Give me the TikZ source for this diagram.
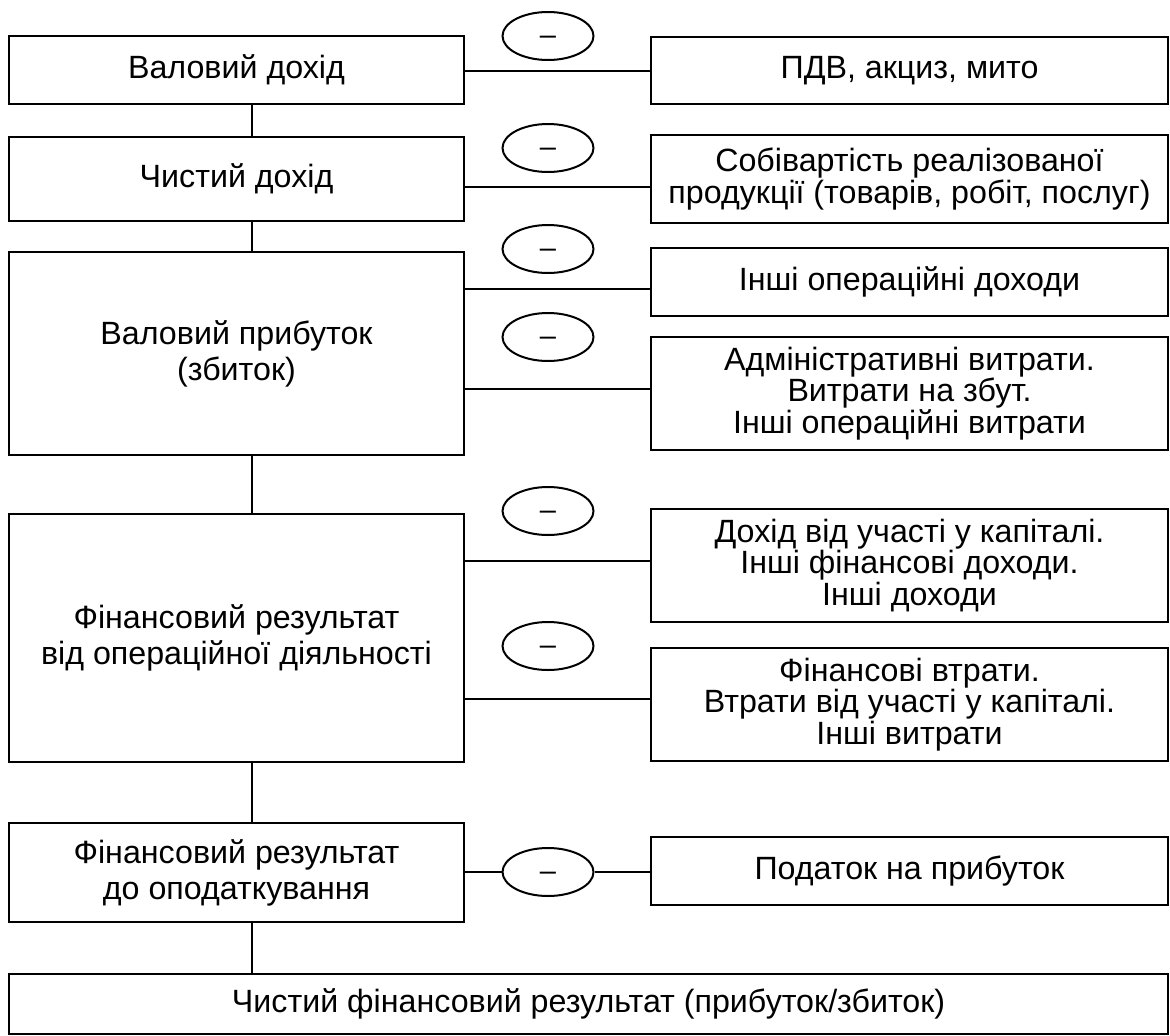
\documentclass[tikz,border=0pt]{standalone}
\usepackage{fontspec}
\setmainfont{Liberation Sans}
\usetikzlibrary{shapes.geometric}

\begin{document}
\begin{tikzpicture}[x=1pt, y=-1pt,
            lbox/.style = {draw, line width=2.6pt, minimum width=455pt,
                        inner sep=0pt, align=center,
                        font=\fontsize{32.2}{36}\selectfont},
            rbox/.style = {draw, line width=2.6pt, minimum width=517pt,
                        inner sep=0pt, align=center,
                        font=\fontsize{32.2}{31.5}\selectfont},
            minusoval/.style = {ellipse, draw, line width=2pt,
                        minimum width=91pt, minimum height=48pt, inner sep=0pt,
                        text height=16pt, text depth=0pt,
                        font=\fontsize{29}{29}\selectfont},
            link/.style = {line width=2.3pt}]
    \useasboundingbox (0,0) rectangle (1170,1036);
    % Left column
    \node[lbox, minimum height=68pt] (gross) at (236.5,70) {Валовий дохід};
    \node[lbox, minimum height=84pt] (net) at (236.5,179) {Чистий дохід};
    \node[lbox, minimum height=203pt] (grossprofit) at (236.5,353.5) {Валовий прибуток\\(збиток)};
    \node[lbox, minimum height=248pt] (opresult) at (236.5,638) {Фінансовий результат\\від операційної діяльності};
    \node[lbox, minimum height=99pt] (pretax) at (236.5,872.5) {Фінансовий результат\\до оподаткування};
    % Final result
    \node[lbox, minimum width=1159pt, minimum height=60pt] (netresult) at (588.5,1004) {Чистий фінансовий результат (прибуток/збиток)};
    % Right column
    \node[rbox, minimum height=67pt] (vat) at (909.5,70.5) {ПДВ, акциз, мито};
    \node[rbox, minimum height=88pt] (cost) at (909.5,179) {Собівартість реалізованої\\продукції (товарів, робіт, послуг)};
    \node[rbox, minimum height=68pt] (otherinc) at (909.5,282) {Інші операційні доходи};
    \node[rbox, minimum height=113pt] (opexp) at (909.5,393.5) {Адміністративні витрати.\\Витрати на збут.\\Інші операційні витрати};
    \node[rbox, minimum height=113pt] (fininc) at (909.5,565.5) {Дохід від участі у капіталі.\\Інші фінансові доходи.\\Інші доходи};
    \node[rbox, minimum height=113pt] (finexp) at (909.5,704.5) {Фінансові втрати.\\Втрати від участі у капіталі.\\Інші витрати};
    \node[rbox, minimum height=68pt] (tax) at (909.5,871) {Податок на прибуток};
    % Minus signs
    \node[minusoval] (m1) at (548,36) {–};
    \node[minusoval] (m2) at (548,148) {–};
    \node[minusoval] (m3) at (548,249) {–};
    \node[minusoval] (m4) at (548,337) {–};
    \node[minusoval] (m5) at (548,511) {–};
    \node[minusoval] (m6) at (548,646) {–};
    \node[minusoval] (m7) at (548,872) {–};
    % Vertical spine
    \coordinate (spine) at (252,0);
    \draw[link] (gross.south -| spine) -- (net.north -| spine);
    \draw[link] (net.south -| spine) -- (grossprofit.north -| spine);
    \draw[link] (grossprofit.south -| spine) -- (opresult.north -| spine);
    \draw[link] (opresult.south -| spine) -- (pretax.north -| spine);
    \draw[link] (pretax.south -| spine) -- (netresult.north -| spine);
    % Horizontal connectors
    \draw[link] (gross.east |- 0,71) -- (vat.west |- 0,71);
    \draw[link] (net.east |- 0,187) -- (cost.west |- 0,187);
    \draw[link] (grossprofit.east |- 0,289) -- (otherinc.west |- 0,289);
    \draw[link] (grossprofit.east |- 0,389) -- (opexp.west |- 0,389);
    \draw[link] (opresult.east |- 0,561) -- (fininc.west |- 0,561);
    \draw[link] (opresult.east |- 0,699) -- (finexp.west |- 0,699);
    \draw[link] (pretax.east |- m7) -- (m7) -- (tax.west |- m7);
\end{tikzpicture}
\end{document}
